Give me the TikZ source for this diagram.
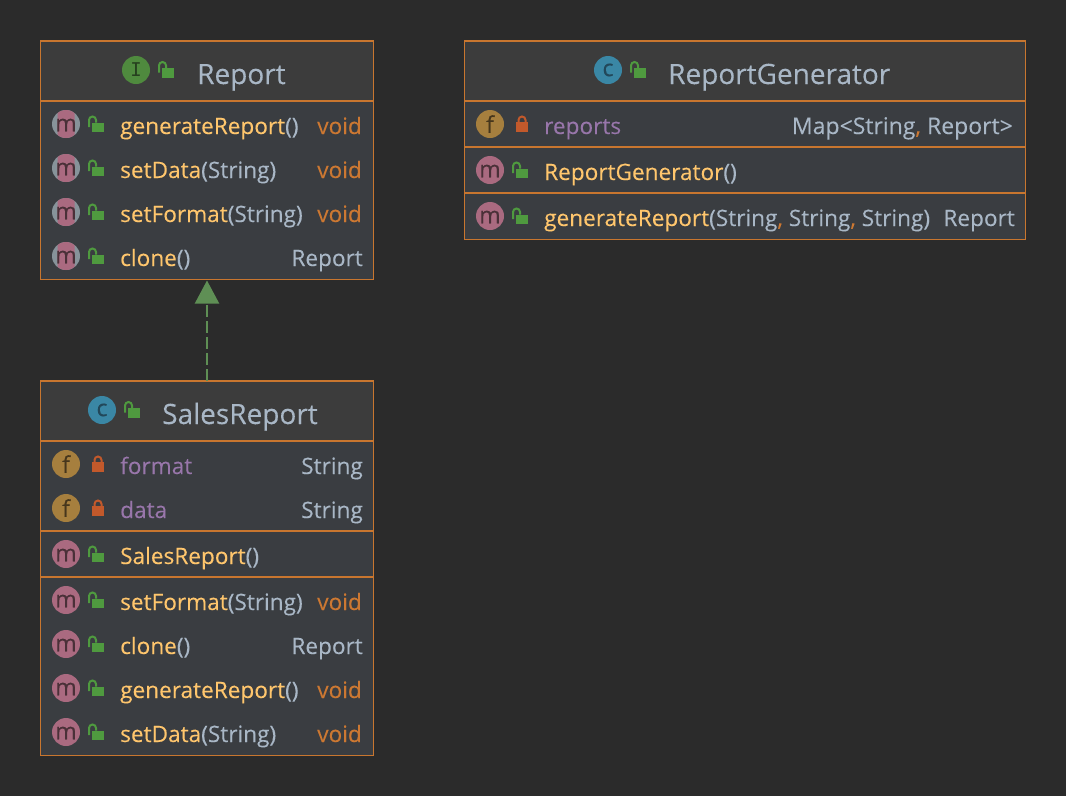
\documentclass[tikz,border=0pt]{standalone}
\usepackage{fontspec}
\setmainfont{Open Sans}
\newfontfamily\ifam{DejaVu Sans Mono}
\usetikzlibrary{arrows.meta}
\definecolor{bg}{HTML}{2B2B2B}
\definecolor{headfill}{HTML}{3C3C3C}
\definecolor{bodyfill}{HTML}{3A3D41}
\definecolor{edge}{HTML}{C8762F}
\definecolor{plain}{HTML}{A9B7C6}
\definecolor{meth}{HTML}{FFC66D}
\definecolor{fieldc}{HTML}{9876AA}
\definecolor{kw}{HTML}{CC7832}
\definecolor{mico}{HTML}{AA6A80}
\definecolor{mtxt}{HTML}{4A3038}
\definecolor{fico}{HTML}{A67F3E}
\definecolor{ftxt}{HTML}{46361C}
\definecolor{cico}{HTML}{3A87A5}
\definecolor{ctxt}{HTML}{22485A}
\definecolor{iico}{HTML}{4F8A3E}
\definecolor{itxt}{HTML}{26401F}
\definecolor{okl}{HTML}{4F9A3F}
\definecolor{redl}{HTML}{C2592B}
\definecolor{greyico}{HTML}{87939A}
\definecolor{arrowc}{HTML}{5F8F55}
\tikzset{
  x=1pt,y=1pt,
  umlbox/.style={fill=bodyfill,rectangle,inner sep=0pt,outer sep=0pt,anchor=north west},
  frame/.style={draw=edge,line width=1.2pt},
  rowt/.style={anchor=base west,inner sep=0pt,font=\fontsize{22.6}{24}\selectfont\addfontfeature{FakeBold=0.12},text=plain},
  rowr/.style={anchor=base east,inner sep=0pt,font=\fontsize{22.6}{24}\selectfont\addfontfeature{FakeBold=0.12},text=plain},
  titlet/.style={anchor=base west,inner sep=0pt,font=\fontsize{28}{30}\selectfont\addfontfeature{FakeBold=0.12},text=plain},
  sep/.style={draw=edge,line width=2pt},
  icont/.style={inner sep=0pt,font=\fontsize{23}{24}\selectfont\addfontfeature{FakeBold=0.3}},
  realize/.style={draw=arrowc,line width=2pt,dash pattern=on 12pt off 4pt,-{Triangle[length=23pt,width=24pt,fill=arrowc]},shorten >=1pt}
}
\newcommand{\openlock}[2]{%
  \fill[okl] (#1,#2-3.3) rectangle (#1+12,#2+6);
  \draw[okl,line width=2pt] (#1-3,#2+1) -- (#1-3,#2-6) arc[start angle=180,end angle=360,radius=3.5] -- (#1+4,#2-3.3);
}
\newcommand{\closedlock}[2]{%
  \fill[redl] (#1,#2-2) rectangle (#1+12,#2+7.5);
  \draw[redl,line width=2pt] (#1+2.5,#2-2) -- (#1+2.5,#2-4) arc[start angle=180,end angle=360,radius=3.5] -- (#1+9.5,#2-2);
}
\newcommand{\micon}[3]{%
  \fill[mico] (#2,#3) circle[radius=14];
  \node[icont,text=mtxt] (#1) at (#2,#3+1) {m};
}
\newcommand{\amicon}[3]{%
  \fill[greyico] (#2,#3) circle[radius=14];
  \begin{scope}
    \clip (#2-8.5,#3-14) rectangle (#2+8.5,#3+14);
    \fill[mico] (#2,#3) circle[radius=14];
  \end{scope}
  \node[icont,text=mtxt] (#1) at (#2,#3+1) {m};
}
\newcommand{\ficon}[3]{%
  \fill[fico] (#2,#3) circle[radius=14];
  \node[icont,text=ftxt] (#1) at (#2,#3) {f};
}
\newcommand{\cicon}[3]{%
  \fill[cico] (#2,#3) circle[radius=14];
  \node[icont,text=ctxt] (#1) at (#2,#3) {c};
}
\newcommand{\iicon}[3]{%
  \fill[iico] (#2,#3) circle[radius=14];
  \node[icont,text=itxt,font=\fontsize{19}{20}\selectfont\ifam] (#1) at (#2,#3) {I};
}
\newcommand{\mc}[1]{\textcolor{meth}{#1}}
\newcommand{\cm}{\textcolor{kw}{,}}
\begin{document}
\begin{tikzpicture}[y=-1pt]
\useasboundingbox (0,0) rectangle (1066,796);
\fill[bg] (0,0) rectangle (1066,796);
% --- boxes
\node[umlbox,minimum width=333pt,minimum height=239pt] (report) at (40.5,40.5) {};
\node[umlbox,minimum width=333pt,minimum height=375pt] (sales) at (40.5,380.5) {};
\node[umlbox,minimum width=561pt,minimum height=199pt] (gen) at (464.5,40.5) {};
% headers
\fill[headfill] (41.3,41.3) rectangle (372.7,100);
\fill[headfill] (41.3,381.3) rectangle (372.7,440);
\fill[headfill] (465.3,41.3) rectangle (1024.7,100);
% frames
\draw[frame] (report.north west) rectangle (report.south east);
\draw[frame] (sales.north west) rectangle (sales.south east);
\draw[frame] (gen.north west) rectangle (gen.south east);
% top edges and separators
\draw[sep] (report.north west) -- (report.north east);
\draw[sep] (sales.north west) -- (sales.north east);
\draw[sep] (gen.north west) -- (gen.north east);
\draw[sep] (40.5,101) -- (373.5,101);
\draw[sep] (40.5,441) -- (373.5,441);
\draw[sep] (40.5,530.5) -- (373.5,530.5);
\draw[sep] (40.5,576.5) -- (373.5,576.5);
\draw[sep] (464.5,101) -- (1025.5,101);
\draw[sep] (464.5,147) -- (1025.5,147);
\draw[sep] (464.5,193) -- (1025.5,193);
% --- connector
\draw[realize] (sales.north) -- (report.south);
% --- Report
\iicon{ri}{136}{70}\openlock{162}{71.5}
\node[titlet] (rt) at (197,84) {Report};
\amicon{r1i}{66}{124}\openlock{92}{126}
\node[rowt] (r1) at (120,134) {\mc{generateReport}()};
\node[rowr,text=kw] (r1r) at (362,134) {void};
\amicon{r2i}{66}{168}\openlock{92}{170}
\node[rowt] (r2) at (120,178) {\mc{setData}(String)};
\node[rowr,text=kw] (r2r) at (362,178) {void};
\amicon{r3i}{66}{212}\openlock{92}{214}
\node[rowt] (r3) at (120,222) {\mc{setFormat}(String)};
\node[rowr,text=kw] (r3r) at (362,222) {void};
\amicon{r4i}{66}{256}\openlock{92}{258}
\node[rowt] (r4) at (120,266) {\mc{clone}()};
\node[rowr] (r4r) at (363,266) {Report};
% --- SalesReport
\cicon{si}{102}{410}\openlock{128}{411.5}
\node[titlet] (st) at (162,424) {SalesReport};
\ficon{s1i}{66}{464}\closedlock{92}{464}
\node[rowt,text=fieldc] (s1) at (120,474) {format};
\node[rowr] (s1r) at (363,474) {String};
\ficon{s2i}{66}{508}\closedlock{92}{508}
\node[rowt,text=fieldc] (s2) at (120,518) {data};
\node[rowr] (s2r) at (363,518) {String};
\micon{s3i}{66}{554}\openlock{92}{556}
\node[rowt] (s3) at (120,564) {\mc{SalesReport}()};
\micon{s4i}{66}{600}\openlock{92}{602}
\node[rowt] (s4) at (120,610) {\mc{setFormat}(String)};
\node[rowr,text=kw] (s4r) at (362,610) {void};
\micon{s5i}{66}{644}\openlock{92}{646}
\node[rowt] (s5) at (120,654) {\mc{clone}()};
\node[rowr] (s5r) at (363,654) {Report};
\micon{s6i}{66}{688}\openlock{92}{690}
\node[rowt] (s6) at (120,698) {\mc{generateReport}()};
\node[rowr,text=kw] (s6r) at (362,698) {void};
\micon{s7i}{66}{732}\openlock{92}{734}
\node[rowt] (s7) at (120,742) {\mc{setData}(String)};
\node[rowr,text=kw] (s7r) at (362,742) {void};
% --- ReportGenerator
\cicon{gi}{608}{70}\openlock{634}{71.5}
\node[titlet] (gt) at (668,84) {ReportGenerator};
\ficon{g1i}{490}{124}\closedlock{516}{124}
\node[rowt,text=fieldc] (g1) at (544,134) {reports};
\node[rowr,font=\fontsize{23}{24}\selectfont\addfontfeature{FakeBold=0.12}] (g1r) at (1013,134) {Map<String\cm{} Report>};
\micon{g2i}{490}{170}\openlock{516}{172}
\node[rowt] (g2) at (544,180) {\mc{ReportGenerator}()};
\micon{g3i}{490}{216}\openlock{516}{218}
\node[rowt] (g3) at (544,226) {\mc{generateReport}(String\cm{} String\cm{} String)};
\node[rowr] (g3r) at (1015,226) {Report};
\end{tikzpicture}
\end{document}
